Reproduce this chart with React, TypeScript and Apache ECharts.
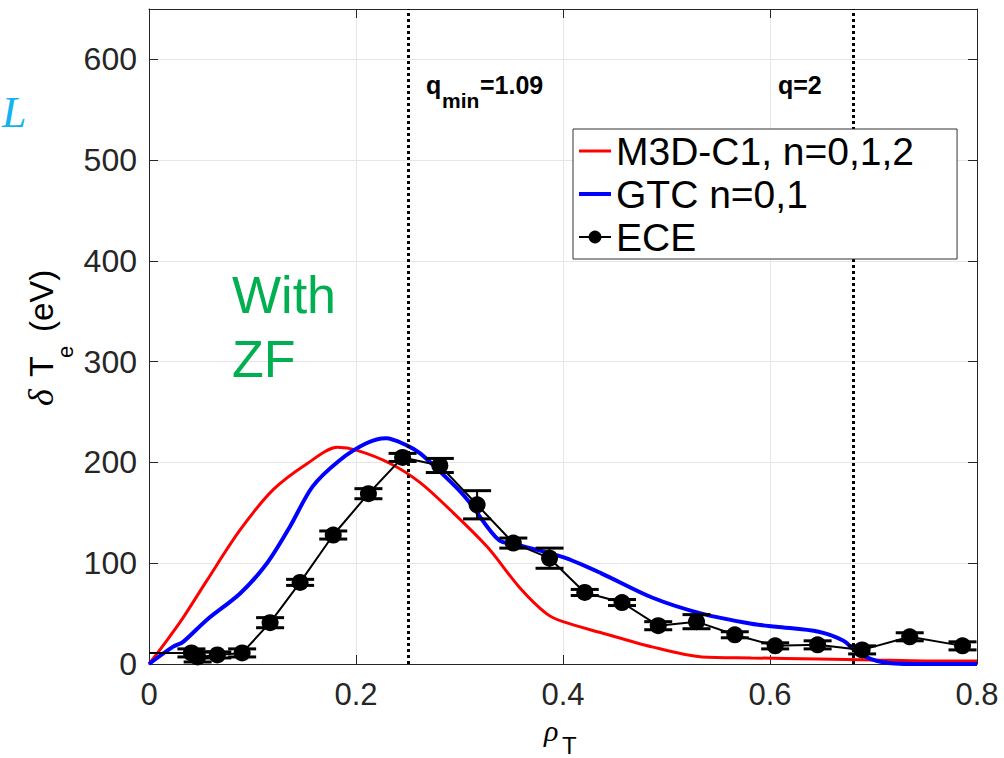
import React, { useEffect, useRef } from "react";
import * as echarts from "echarts";

// ---- data ----
const nameRed = "M3D-C1, n=0,1,2";
const nameBlue = "GTC n=0,1";
const nameEce = "ECE";

const rhoRed = [0, 0.017, 0.033, 0.056, 0.088, 0.12, 0.153, 0.182, 0.201, 0.233, 0.262, 0.294, 0.327, 0.358, 0.384, 0.4, 0.437, 0.486, 0.534, 0.582, 0.647, 0.7, 0.75, 0.8];
const teRed = [0, 23, 46, 83, 133, 173, 199, 215, 212, 199, 180, 150, 116, 76, 50, 42, 31, 17, 7, 6, 5, 4, 3, 3];

const rhoBlue = [0, 0.023, 0.033, 0.056, 0.088, 0.114, 0.136, 0.158, 0.184, 0.21, 0.229, 0.249, 0.262, 0.28, 0.299, 0.31, 0.338, 0.357, 0.4, 0.437, 0.486, 0.534, 0.582, 0.606, 0.647, 0.671, 0.685, 0.708, 0.74, 0.8];
const teBlue = [0, 17, 22, 44, 70, 100, 136, 176, 202, 219, 224, 217, 209, 192, 173, 160, 123, 118, 106, 90, 66, 50, 40, 37, 32, 23, 11, 2, 0, 0];

const rhoEce = [0, 0.041, 0.047, 0.066, 0.09, 0.117, 0.146, 0.178, 0.212, 0.245, 0.281, 0.317, 0.352, 0.387, 0.421, 0.457, 0.492, 0.529, 0.566, 0.605, 0.646, 0.689, 0.735, 0.786];
const teEce = [11, 11, 7, 9, 11, 41, 81, 128, 169, 205, 197, 158, 120, 105, 71, 61, 38, 42, 29, 18, 19, 14, 27, 18];
const errEce = [0, 4, 5, 3, 4, 5, 3, 4, 5, 4, 7, 14, 5, 10, 3, 3, 4, 7, 3, 3, 4, 4, 4, 4];

const qLinesRho = [0.253, 0.681];

const xMin = 0, xMax = 0.8, xStep = 0.2;
const yMin = 0, yMax = 650, yStep = 100;

const FONT = "Liberation Sans";

export default function App() {
  const ref = useRef<HTMLDivElement>(null);
  useEffect(() => {
    if (!ref.current) return;
    const chart = echarts.init(ref.current, null, { renderer: "svg" });

    const axisLine = { show: true, onZero: false, lineStyle: { color: "#262626", width: 1 } };
    const axisTick = { show: true, inside: true, length: 9, lineStyle: { color: "#262626", width: 1 } };

    const errData = rhoEce
      .map((x, i) => [x, teEce[i] - errEce[i], teEce[i] + errEce[i], errEce[i]])
      .filter((d) => d[3] > 0);

    const txt = (text: string, x: number, y: number, o: any = {}) => ({
      type: "text",
      x,
      y,
      silent: true,
      z: 20,
      style: {
        text,
        fill: o.fill || "#000",
        fontSize: o.fontSize || 30,
        fontFamily: o.fontFamily || FONT,
        fontWeight: o.fontWeight || "normal",
        fontStyle: o.fontStyle || "normal",
        align: o.align || "left",
        textAlign: o.align || "left",
        verticalAlign: "middle",
        textVerticalAlign: "middle",
      },
    });

    const option: any = {
      animation: false,
      backgroundColor: "#fff",
      grid: { left: 149, right: 27, top: 9, bottom: 94, containLabel: false },
      xAxis: [
        {
          type: "value",
          min: xMin,
          max: xMax,
          interval: xStep,
          position: "bottom",
          axisLine,
          axisTick,
          axisLabel: { fontSize: 31, color: "#262626", fontFamily: FONT, margin: 15 },
          splitLine: { show: true, lineStyle: { color: "#e6e6e6", width: 1 } },
        },
        {
          type: "value",
          min: xMin,
          max: xMax,
          interval: xStep,
          position: "top",
          axisLine,
          axisTick,
          axisLabel: { show: false },
          splitLine: { show: false },
        },
      ],
      yAxis: [
        {
          type: "value",
          min: yMin,
          max: yMax,
          interval: yStep,
          position: "left",
          axisLine,
          axisTick,
          axisLabel: {
            fontSize: 32,
            color: "#262626",
            fontFamily: FONT,
            margin: 12,
            formatter: (v: number) => (Math.abs(v % 100) < 1e-6 ? String(v) : ""),
          },
          splitLine: { show: true, lineStyle: { color: "#e6e6e6", width: 1 } },
        },
        {
          type: "value",
          min: yMin,
          max: yMax,
          interval: yStep,
          position: "right",
          axisLine,
          axisTick,
          axisLabel: { show: false },
          splitLine: { show: false },
        },
      ],
      legend: {
        left: 573,
        top: 129,
        orient: "vertical",
        z: 10,
        data: [
          { name: nameRed, icon: "path://M0,0H32V3H0Z" },
          { name: nameBlue, icon: "path://M0,0H32V4H0Z" },
          { name: nameEce },
        ],
        symbolKeepAspect: true,
        backgroundColor: "#fff",
        borderColor: "#333",
        borderWidth: 1,
        borderRadius: 0,
        padding: [1, 43, 1, 5],
        itemGap: 1,
        itemWidth: 32,
        itemHeight: 16,
        selectedMode: false,
        textStyle: { fontSize: 39, color: "#000", fontFamily: FONT, lineHeight: 42 },
      },
      graphic: [
        // cyan L at left edge
        txt("L", 2, 112, { fill: "#12b4ee", fontSize: 44, fontFamily: "Liberation Serif", fontStyle: "italic" }),
        // With ZF
        txt("With", 232, 295, { fill: "#00b050", fontSize: 52 }),
        txt("ZF", 232, 359, { fill: "#00b050", fontSize: 52 }),
        // q labels
        txt("q", 426, 85, { fontSize: 25, fontWeight: "bold" }),
        txt("min", 442, 100, { fontSize: 21, fontWeight: "bold" }),
        txt("=1.09", 480, 85, { fontSize: 25, fontWeight: "bold" }),
        txt("q=2", 778, 85, { fontSize: 25, fontWeight: "bold" }),
        // x axis name
        txt("\u03c1", 544, 730, { fontSize: 30, fontFamily: "Liberation Serif", fontStyle: "italic" }),
        txt("T", 562, 745, { fontSize: 24 }),
        // y axis name (rotated)
        {
          type: "group",
          x: 53,
          y: 408,
          rotation: Math.PI / 2,
          silent: true,
          z: 20,
          children: [
            txt("\u03b4", 2, -12, { fontSize: 36, fontFamily: "Liberation Serif", fontStyle: "italic" }),
            txt("T", 31, -12, { fontSize: 34 }),
            txt("e", 50, 12, { fontSize: 22 }),
            txt("(eV)", 76, -12, { fontSize: 33 }),
          ],
        },
      ],
      series: [
        {
          name: nameRed,
          type: "line",
          data: rhoRed.map((x, i) => [x, teRed[i]]),
          symbol: "none",
          smooth: 0.3,
          lineStyle: { color: "#ff0000", width: 3 },
          itemStyle: { color: "#ff0000" },
          z: 2,
          markLine: {
            silent: true,
            symbol: ["none", "none"],
            label: { show: false },
            lineStyle: { color: "#000", type: [3, 3], width: 3 },
            emphasis: { disabled: true },
            data: qLinesRho.map((r) => ({ xAxis: r })),
          },
        },
        {
          name: nameBlue,
          type: "line",
          data: rhoBlue.map((x, i) => [x, teBlue[i]]),
          symbol: "none",
          smooth: 0.3,
          lineStyle: { color: "#0000ff", width: 4 },
          itemStyle: { color: "#0000ff" },
          z: 2,
        },
        {
          name: "ECE error",
          type: "custom",
          z: 3,
          data: errData,
          encode: { x: 0, y: [1, 2] },
          renderItem: (params: any, api: any) => {
            const x = api.value(0);
            const lo = api.value(1);
            const hi = api.value(2);
            const top = api.coord([x, hi]);
            const bot = api.coord([x, lo]);
            const hw = 14;
            const st = { stroke: "#000", lineWidth: 2 };
            const cap = { stroke: "#000", lineWidth: 3 };
            return {
              type: "group",
              children: [
                { type: "line", shape: { x1: top[0], y1: top[1], x2: bot[0], y2: bot[1] }, style: st },
                { type: "line", shape: { x1: top[0] - hw, y1: top[1], x2: top[0] + hw, y2: top[1] }, style: cap },
                { type: "line", shape: { x1: bot[0] - hw, y1: bot[1], x2: bot[0] + hw, y2: bot[1] }, style: cap },
              ],
            };
          },
        },
        {
          name: nameEce,
          type: "line",
          z: 4,
          data: rhoEce.map((x, i) => [x, teEce[i]]),
          symbol: "circle",
          symbolSize: (_v: any, p: any) => (p.dataIndex === 0 ? 0 : 17),
          showAllSymbol: true,
          lineStyle: { color: "#000", width: 2 },
          itemStyle: { color: "#000" },
        },
      ],
    };

    chart.setOption(option);
    return () => chart.dispose();
  }, []);

  return (
    <div
      ref={ref}
      style={{ position: "absolute", left: 0, top: 0, width: 1004, height: 758, background: "#fff" }}
    />
  );
}
